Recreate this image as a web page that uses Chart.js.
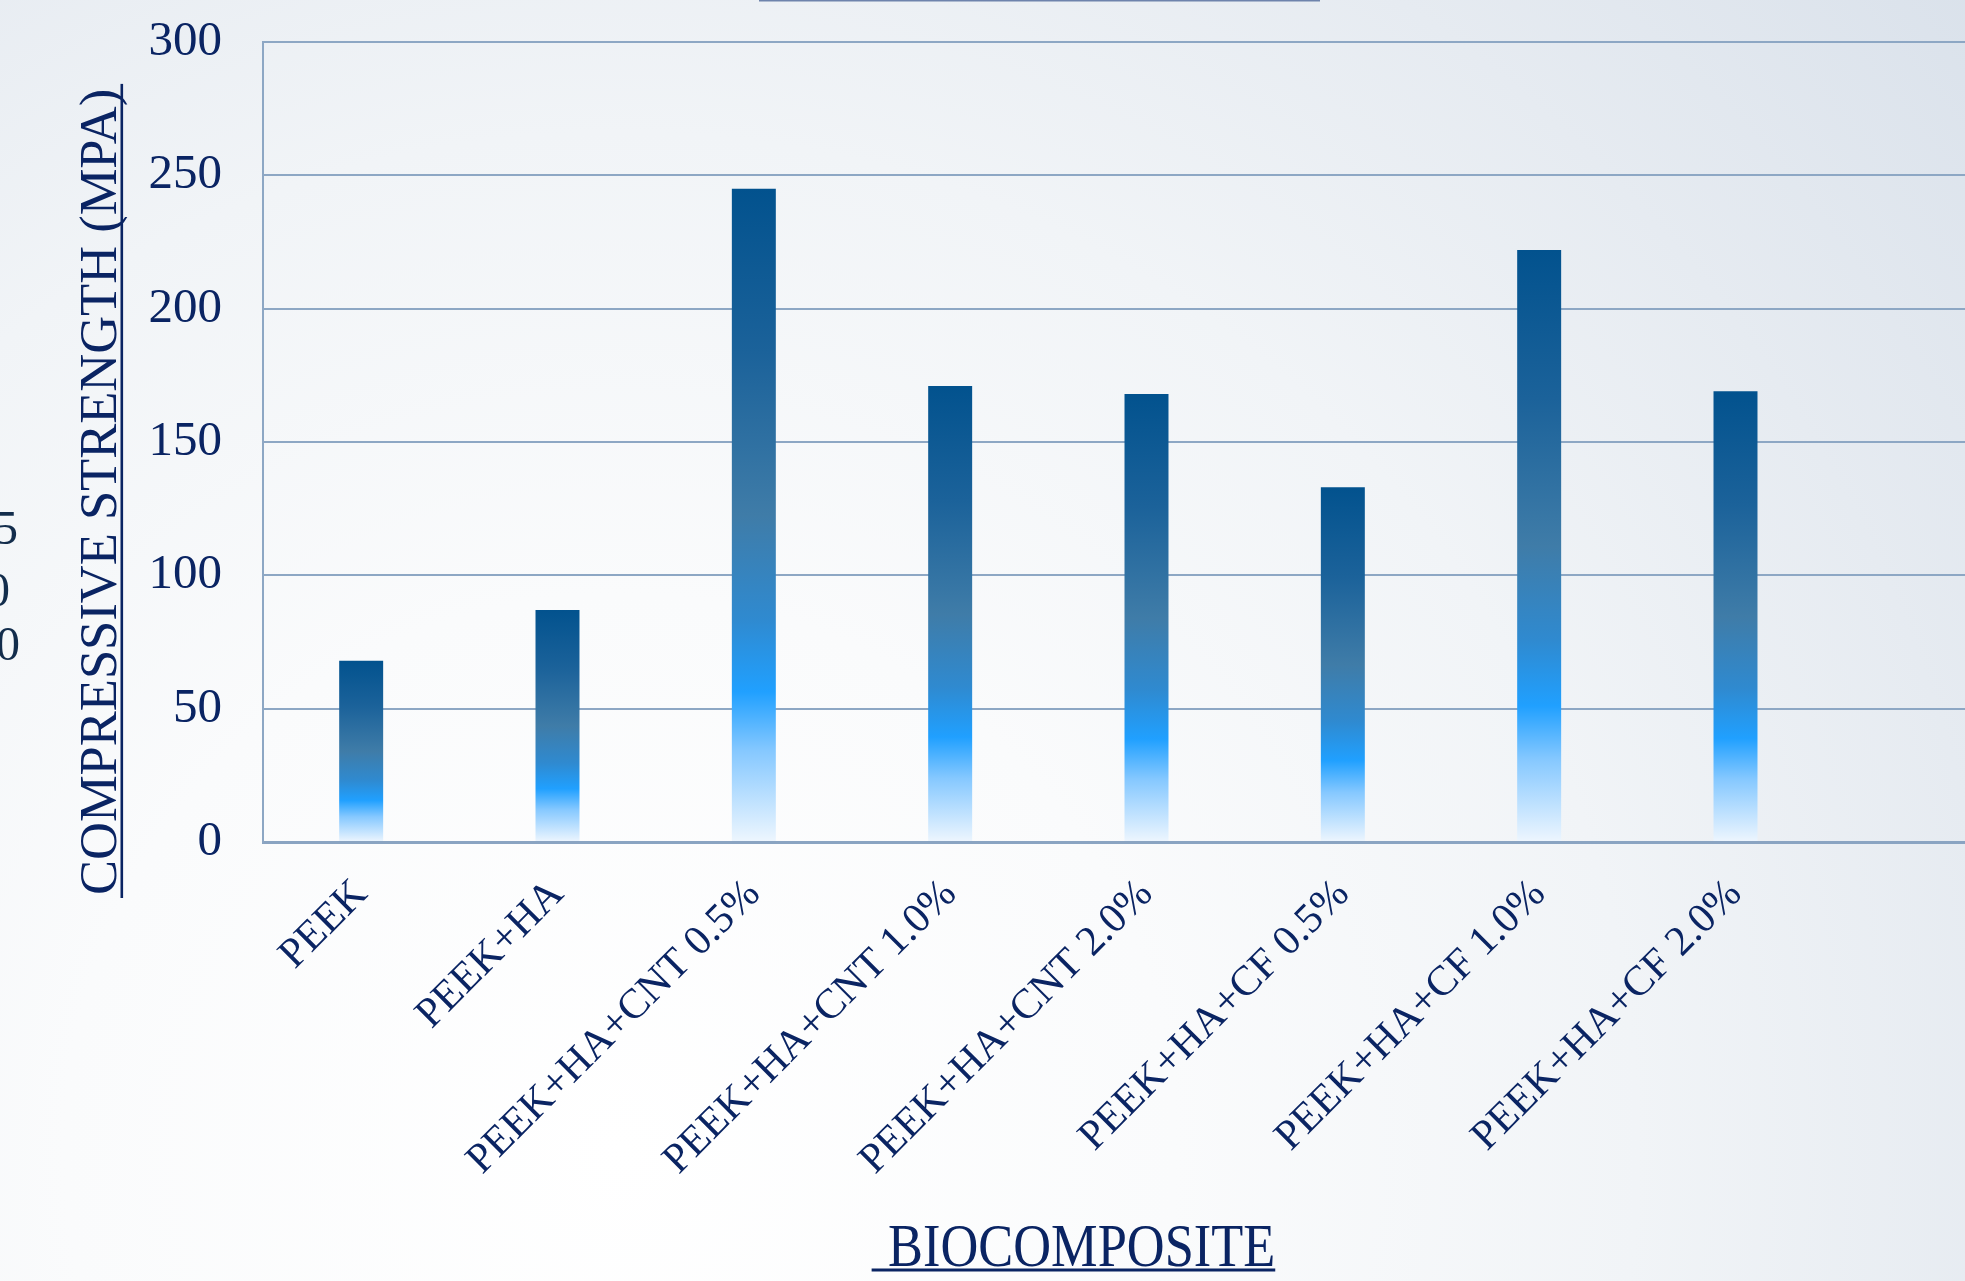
<!DOCTYPE html>
<html><head><meta charset="utf-8">
<script src="https://cdn.jsdelivr.net/npm/chart.js@4.4.1/dist/chart.umd.min.js"></script>
<style>
html,body{margin:0;padding:0;overflow:hidden;width:1965px;height:1281px;background:#eef2f6}
#wrap{position:absolute;left:0;top:0;width:2030px;height:1281px}
canvas{display:block}
</style></head><body>
<div id="wrap"><canvas id="c" width="2030" height="1281"></canvas></div>
<script>
const categories = ['PEEK','PEEK+HA','PEEK+HA+CNT 0.5%','PEEK+HA+CNT 1.0%','PEEK+HA+CNT 2.0%','PEEK+HA+CF 0.5%','PEEK+HA+CF 1.0%','PEEK+HA+CF 2.0%'];
const strength = [68, 87, 245, 171, 168, 133, 222, 169];
const yTicks = [0, 50, 100, 150, 200, 250, 300];
const yTitle = 'COMPRESSIVE STRENGTH (MPA)';
const xTitle = ' BIOCOMPOSITE';
const sideFragments = ['5', '0', '0'];

const NAVY = '#0A2463';
const FONT = "'Liberation Serif', 'Times New Roman', serif";
const GRID = '#8DA7C4';

// one spare empty slot on the right (plot area runs past the picture edge)
const labels = categories.concat(['']);
const values = strength.concat([null]);

function barFill(ctx) {
  const c = ctx.chart;
  const ys = c.scales && c.scales.y;
  if (!ys || ctx.type !== 'data' || ctx.raw == null) return '#02528E';
  const top = ys.getPixelForValue(ctx.raw);
  const bot = ys.getPixelForValue(0);
  if (!isFinite(top) || !isFinite(bot) || bot - top < 1) return '#02528E';
  const g = c.ctx.createLinearGradient(0, top, 0, bot);
  g.addColorStop(0.00, '#02528E');
  g.addColorStop(0.25, '#1B629A');
  g.addColorStop(0.50, '#3F7CA8');
  g.addColorStop(0.66, '#2F8AD0');
  g.addColorStop(0.77, '#20A0FF');
  g.addColorStop(0.86, '#85C8FF');
  g.addColorStop(1.00, '#EEF6FE');
  return g;
}

const decor = {
  id: 'decor',
  beforeDraw(chart) {
    const ctx = chart.ctx;
    ctx.save();
    const g = ctx.createRadialGradient(620, 1150, 0, 620, 1150, 1850);
    g.addColorStop(0.00, '#ffffff');
    g.addColorStop(0.30, '#fafbfc');
    g.addColorStop(0.55, '#f1f4f7');
    g.addColorStop(0.75, '#e6ebf1');
    g.addColorStop(1.00, '#d8e0ea');
    ctx.fillStyle = g;
    ctx.fillRect(0, 0, chart.width, chart.height);
    ctx.restore();
  },
  afterDraw(chart) {
    const ctx = chart.ctx;
    ctx.save();
    // underline of a title cut off above the picture
    ctx.fillStyle = '#6E83AC';
    ctx.fillRect(759, 0, 561, 1.5);

    // fragments of a neighbouring chart cut off at the left edge
    ctx.fillStyle = '#132d4c';
    ctx.font = '48px ' + FONT;
    ctx.textAlign = 'right';
    ctx.textBaseline = 'middle';
    const fx = [18, 10, 20], fy = [531, 593, 647];
    sideFragments.forEach((t, i) => ctx.fillText(t, fx[i], fy[i]));

    // x axis title
    ctx.fillStyle = NAVY;
    ctx.textAlign = 'left';
    ctx.textBaseline = 'alphabetic';
    ctx.save();
    ctx.font = '62px ' + FONT;
    ctx.translate(875, 1266);
    ctx.scale(0.845, 1);
    ctx.fillText(xTitle, 0, 0);
    const wx = ctx.measureText(xTitle).width;
    ctx.fillRect(-4, 2.5, wx + 4, 3);
    ctx.restore();

    // y axis title
    ctx.save();
    ctx.font = '52.5px ' + FONT;
    ctx.translate(116, 895);
    ctx.rotate(-Math.PI / 2);
    ctx.fillText(yTitle, 0, 0);
    const wy = ctx.measureText(yTitle).width;
    ctx.fillRect(-3, 4.5, wy + 8, 2.6);
    ctx.restore();
    ctx.restore();
  }
};

new Chart(document.getElementById('c'), {
  type: 'bar',
  data: {
    labels: labels,
    datasets: [{
      data: values,
      backgroundColor: barFill,
      borderWidth: 0,
      categoryPercentage: 1,
      barPercentage: 0.224
    }]
  },
  options: {
    responsive: false,
    animation: false,
    devicePixelRatio: 1,
    layout: { padding: { top: 42, left: 0, right: 0, bottom: 0 } },
    plugins: { legend: { display: false }, tooltip: { enabled: false }, title: { display: false } },
    scales: {
      x: {
        grid: { display: false, drawTicks: false },
        border: { display: true, color: '#8AA4C2', width: 3 },
        ticks: {
          color: NAVY,
          font: { family: FONT, size: 42 },
          minRotation: 45, maxRotation: 45,
          autoSkip: false,
          padding: 28
        },
        afterFit(s) { s.height = 1281 - 842; }
      },
      y: {
        min: 0, max: 300,
        grid: { color: GRID, lineWidth: 2, drawTicks: false },
        border: { display: true, color: GRID, width: 2 },
        ticks: {
          color: NAVY,
          font: { family: FONT, size: 49 },
          padding: 41,
          stepSize: 50
        },
        afterBuildTicks(s) { s.ticks = yTicks.map(v => ({ value: v })); },
        afterFit(s) { s.width = 263; s.paddingTop = 0; s.paddingBottom = 0; }
      }
    }
  },
  plugins: [decor]
});
</script>
</body></html>
